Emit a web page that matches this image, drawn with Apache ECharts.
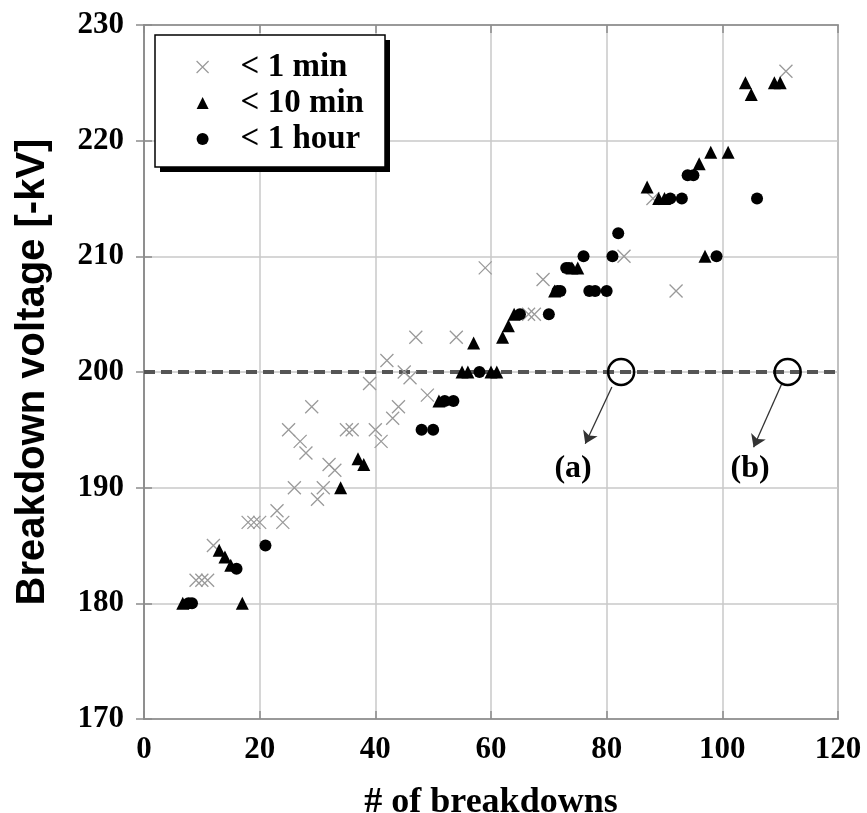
<!DOCTYPE html>
<html>
<head>
<meta charset="utf-8">
<script src="https://cdn.jsdelivr.net/npm/echarts@6/dist/echarts.min.js"></script>
<style>
  html, body { margin: 0; padding: 0; background: #fff; }
  #chart { width: 867px; height: 813px; }
</style>
</head>
<body>
<div id="chart"></div>
<script>
// Axis ranges and tick spacing
const xRange = [0, 120];
const xStep = 20;
const yRange = [170, 230];
const yStep = 10;

// Breakdown points: [number of breakdowns, breakdown voltage in -kV]
const underOneMin = [
  [9, 182], [10, 182], [11, 182], [12, 185], [18, 187], [19, 187], [20, 187],
  [23, 188], [24, 187], [25, 195], [26, 190], [27, 194], [28, 193], [29, 197],
  [30, 189], [31, 190], [32, 192], [33, 191.5], [35, 195], [36, 195], [39, 199],
  [40, 195], [41, 194], [42, 201], [43, 196], [44, 197], [45, 200], [46, 199.5],
  [47, 203], [49, 198], [54, 203], [59, 209], [66.5, 205], [67.5, 205], [69, 208],
  [83, 210], [88, 215], [92, 207], [111, 226]
];
const underTenMin = [
  [6.7, 180], [13, 184.6], [14, 184], [15, 183.3], [17, 180], [34, 190],
  [37, 192.5], [38, 192], [51, 197.5], [55, 200], [56, 200], [57, 202.5],
  [60, 200], [61, 200], [62, 203], [63, 204], [64, 205], [71, 207], [74, 209],
  [75, 209], [87, 216], [89, 215], [90, 215], [96, 218], [97, 210], [98, 219],
  [101, 219], [104, 225], [105, 224], [109, 225], [110, 225]
];
const underOneHour = [
  [7.7, 180], [8.3, 180], [16, 183], [21, 185], [48, 195], [50, 195],
  [52, 197.5], [53.5, 197.5], [58, 200], [65, 205], [70, 205], [71.5, 207],
  [72, 207], [73, 209], [73.5, 209], [76, 210], [77, 207], [78, 207], [80, 207],
  [81, 210], [82, 212], [91, 215], [93, 215], [94, 217], [95, 217], [99, 210],
  [106, 215]
];

// Reference level and the two highlighted crossings
const referenceVoltage = 200;
const crossings = [[82.5, 200], [111.3, 200]];
const pointerLines = [
  [[80.9, 198.7], [76.3, 193.8]],
  [[110.3, 199.0], [105.4, 193.5]]
];
const crossingLabels = [
  ['(a)', 74.2, 191.6],
  ['(b)', 104.8, 191.6]
];

const seriesNames = ['< 1 min', '< 10 min', '< 1 hour'];

const serif = '"Liberation Serif", "Times New Roman", serif';
const sans = '"Liberation Sans", Arial, sans-serif';
const crossPath = 'path://M0,0L10,10M10,0L0,10';

// Legend frame (the drop shadow is a solid block offset behind it)
const legendBox = { left: 155, top: 35, width: 230, height: 132, shadow: 5 };

const chart = echarts.init(document.getElementById('chart'), null, { renderer: 'canvas' });

const axisCommon = {
  axisLine: { show: true, lineStyle: { color: '#8c8c8c', width: 1.5 } },
  axisTick: { show: true, inside: true, length: 8, lineStyle: { color: '#8c8c8c', width: 1.5 } },
  splitLine: { show: false }
};

chart.setOption({
  animation: false,
  backgroundColor: '#fff',
  grid: {
    left: 144, top: 25, right: 29, bottom: 94,
    outerBoundsMode: 'none', containLabel: false,
    show: true, borderColor: '#8c8c8c', borderWidth: 1.5, backgroundColor: 'transparent'
  },
  graphic: [
    {
      type: 'rect', z: 3, silent: true,
      shape: {
        x: legendBox.left + legendBox.shadow, y: legendBox.top + legendBox.shadow,
        width: legendBox.width, height: legendBox.height
      },
      style: { fill: '#000' }
    },
    {
      type: 'rect', z: 4, silent: true,
      shape: { x: legendBox.left, y: legendBox.top, width: legendBox.width, height: legendBox.height },
      style: { fill: '#fff', stroke: '#000', lineWidth: 1.5 }
    }
  ],
  legend: {
    data: [
      { name: seriesNames[0], icon: crossPath,
        itemStyle: { color: '#9a9a9a', borderColor: '#9a9a9a', borderWidth: 1.2, opacity: 1 } },
      { name: seriesNames[1], icon: 'triangle', itemStyle: { color: '#000', borderWidth: 0, opacity: 1 } },
      { name: seriesNames[2], icon: 'circle', itemStyle: { color: '#000', borderWidth: 0, opacity: 1 } }
    ],
    orient: 'vertical',
    left: legendBox.left, top: legendBox.top + 2,
    padding: [12, 16, 12, 41],
    itemWidth: 12, itemHeight: 12, itemGap: 0,
    z: 5,
    selectedMode: false,
    textStyle: {
      fontFamily: serif, fontWeight: 'bold', fontSize: 33, color: '#000',
      lineHeight: 36, padding: [0, 0, 0, 27]
    }
  },
  xAxis: [
    Object.assign({}, axisCommon, {
      type: 'value', min: xRange[0], max: xRange[1], interval: xStep,
      splitLine: { show: true, lineStyle: { color: '#c8c8c8', width: 1.5 } },
      axisLabel: { margin: 15, fontFamily: serif, fontWeight: 'bold', fontSize: 31, color: '#000' },
      name: '# of breakdowns', nameLocation: 'middle', nameGap: 66,
      nameTextStyle: { fontFamily: serif, fontWeight: 'bold', fontSize: 36, color: '#000' }
    }),
    Object.assign({}, axisCommon, {
      type: 'value', position: 'top', min: xRange[0], max: xRange[1], interval: xStep,
      axisLabel: { show: false }
    })
  ],
  yAxis: [
    Object.assign({}, axisCommon, {
      type: 'value', min: yRange[0], max: yRange[1], interval: yStep,
      splitLine: { show: true, lineStyle: { color: '#c8c8c8', width: 1.5 } },
      axisLabel: { margin: 20, fontFamily: serif, fontWeight: 'bold', fontSize: 31, color: '#000' },
      name: 'Breakdown voltage [-kV]', nameLocation: 'middle', nameRotate: 90, nameGap: 91,
      nameTextStyle: { fontFamily: sans, fontWeight: 'bold', fontSize: 40, color: '#000' }
    }),
    Object.assign({}, axisCommon, {
      type: 'value', position: 'right', min: yRange[0], max: yRange[1], interval: yStep,
      axisLabel: { show: false }
    })
  ],
  series: [
    {
      name: seriesNames[0], type: 'scatter', data: underOneMin,
      symbol: crossPath, symbolSize: 13, z: 3,
      itemStyle: { color: '#9a9a9a', borderColor: '#9a9a9a', borderWidth: 1.3, opacity: 1 },
      markLine: {
        silent: true, symbol: 'none', label: { show: false },
        lineStyle: { color: '#555', width: 4, type: [11, 6], opacity: 1 },
        data: [{ yAxis: referenceVoltage }],
        z: 2
      }
    },
    {
      name: seriesNames[1], type: 'scatter', data: underTenMin,
      symbol: 'triangle', symbolSize: 13, z: 4,
      itemStyle: { color: '#000', opacity: 1 }
    },
    {
      name: seriesNames[2], type: 'scatter', data: underOneHour,
      symbol: 'circle', symbolSize: 12, z: 4,
      itemStyle: { color: '#000', opacity: 1 }
    },
    {
      name: 'crossings', type: 'scatter', data: crossings,
      symbol: 'circle', symbolSize: 26, z: 5, silent: true,
      itemStyle: { color: 'rgba(255,255,255,0)', borderColor: '#000', borderWidth: 2.5, opacity: 1 }
    },
    {
      name: 'pointers', type: 'lines', coordinateSystem: 'cartesian2d',
      data: pointerLines.map(p => ({ coords: p })),
      symbol: ['none', 'arrow'], symbolSize: 12, z: 5, silent: true,
      lineStyle: { color: '#333', width: 1.3, opacity: 1 }
    },
    {
      name: 'crossing labels', type: 'scatter',
      data: crossingLabels.map(d => ({ name: d[0], value: [d[1], d[2]] })),
      symbolSize: 1, z: 5, silent: true,
      itemStyle: { color: 'rgba(0,0,0,0)', opacity: 1 },
      label: {
        show: true, position: 'inside', formatter: p => p.name,
        fontFamily: serif, fontWeight: 'bold', fontSize: 32, color: '#000'
      }
    }
  ]
});
</script>
</body>
</html>
